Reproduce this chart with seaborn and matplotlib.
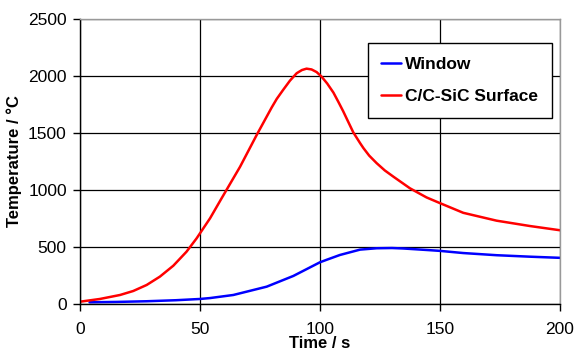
import numpy as np
import pandas as pd
import matplotlib
matplotlib.use("Agg")
import matplotlib.pyplot as plt
import seaborn as sns

# -----------------------------
# Data
# -----------------------------
surface_time = [0, 8.3, 16.7, 22.2, 27.8, 33.3, 38.9, 44.4, 48.6, 54.2, 59, 66.7,
                73.6, 79.9, 82, 84.7, 87.5, 90.3, 92.5, 94.4, 96.5, 98.6, 100.7,
                103, 105.6, 107.7, 109.7, 111.1, 113.9, 116.7, 118.1, 120.5,
                123.6, 127, 130.6, 137.5, 144.4, 150, 159.7, 173.6, 187.5, 200]
surface_temp = [20, 44, 79, 114, 167, 240, 336, 459, 576, 752, 927, 1204,
                1482, 1725, 1800, 1880, 1960, 2025, 2053, 2065, 2058, 2035, 1994,
                1935, 1855, 1772, 1690, 1628, 1505, 1412, 1368, 1302,
                1236, 1172, 1117, 1015, 935, 885, 800, 731, 684, 647]

window_time = [4, 15, 27.8, 40, 50, 54.2, 63.9, 77.8, 88.9, 100, 102.8, 108.3,
               116.7, 123.6, 130, 134.7, 145.8, 150, 159.7, 173.6, 187.5, 200]
window_temp = [15, 18, 24, 33, 44, 52, 79, 152, 246, 366, 388, 430,
               477, 489, 491, 487, 472, 466, 447, 428, 415, 405]

SERIES = ["Window", "C/C-SiC Surface"]
COLORS = ["#0000ff", "#ff0000"]


def build_frame():
    rows = []
    for t, v in zip(window_time, window_temp):
        rows.append({"time": t, "temp": v, "series": SERIES[0]})
    for t, v in zip(surface_time, surface_temp):
        rows.append({"time": t, "temp": v, "series": SERIES[1]})
    return pd.DataFrame(rows)


def main():
    sns.set_style("white")
    plt.rcParams["font.family"] = ["Liberation Sans", "DejaVu Sans"]
    plt.rcParams["text.color"] = "black"
    plt.rcParams["axes.labelcolor"] = "black"
    plt.rcParams["xtick.color"] = "black"
    plt.rcParams["ytick.color"] = "black"

    df = build_frame()

    fig = plt.figure(figsize=(5.77, 3.6), dpi=100)
    ax = fig.add_axes([0.1386, 0.1556, 0.8319, 0.7914])

    sns.lineplot(
        data=df, x="time", y="temp", hue="series",
        hue_order=SERIES, palette=COLORS, linewidth=1.8,
        ax=ax, sort=True, estimator=None,
    )
    for line in ax.get_lines():
        line.set_solid_joinstyle("round")

    ax.set_xlim(0, 200)
    ax.set_ylim(0, 2500)
    ax.set_xticks([0, 50, 100, 150, 200])
    ax.set_yticks([0, 500, 1000, 1500, 2000, 2500])
    ax.grid(True, color="black", linewidth=0.9)
    ax.set_axisbelow(True)

    for side in ["left", "bottom"]:
        ax.spines[side].set_color("black")
        ax.spines[side].set_linewidth(1.0)
    for side in ["top", "right"]:
        ax.spines[side].set_color("#999999")
        ax.spines[side].set_linewidth(1.0)

    ax.tick_params(axis="both", which="major", direction="out", length=5,
                   width=1, color="black", labelcolor="black", labelsize=12.5,
                   left=True, bottom=True)
    ax.tick_params(axis="y", pad=4.5)
    ax.tick_params(axis="x", pad=8)

    ax.set_xlabel("Time / s", fontsize=12, fontweight="bold")
    ax.xaxis.set_label_coords(0.5, -0.112)
    ax.set_ylabel("Temperature / \u00b0C", fontsize=12, fontweight="bold")
    ax.yaxis.set_label_coords(-0.12, 0.5)

    leg = ax.legend(
        loc="upper right", bbox_to_anchor=(0.983, 0.916),
        prop={"weight": "bold", "size": 12.5}, frameon=True, fancybox=False,
        handlelength=1.1, handletextpad=0.25, labelspacing=0.95,
        borderpad=0.8, borderaxespad=0,
    )
    leg.get_frame().set_edgecolor("black")
    leg.get_frame().set_linewidth(1.0)
    leg.get_frame().set_alpha(1)
    for line in leg.get_lines():
        line.set_linewidth(1.8)

    fig.savefig("out.png", dpi=100)
    plt.close(fig)


if __name__ == "__main__":
    main()
